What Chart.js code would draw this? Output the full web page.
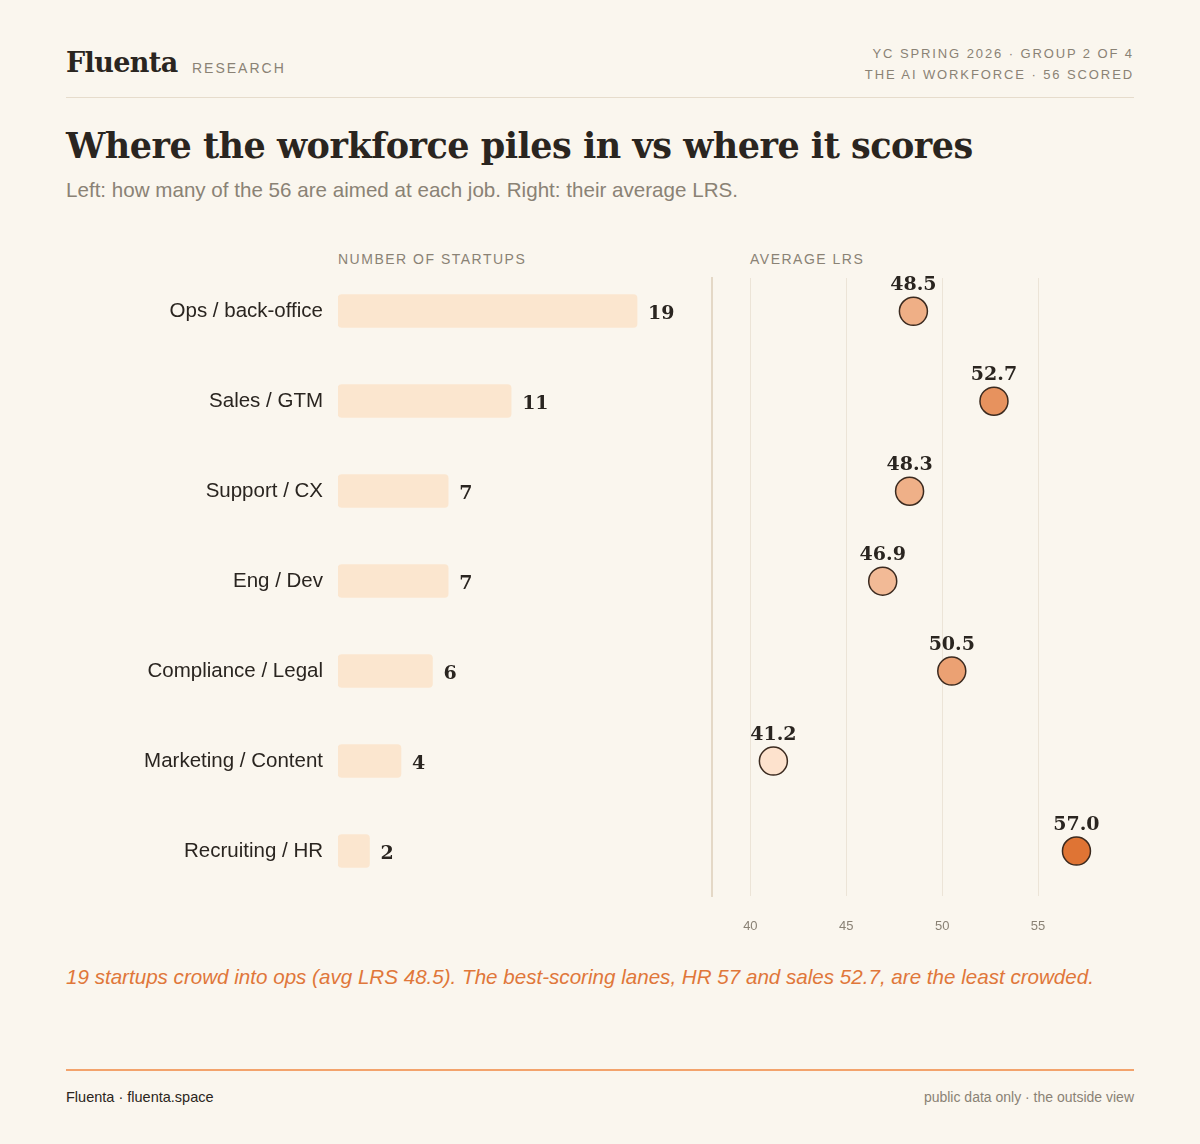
<!DOCTYPE html>
<html lang="en">

<head>
    <meta charset="UTF-8">
    <title>Where the workforce piles in vs where it scores</title>
    <script src="https://cdn.jsdelivr.net/npm/chart.js@4.4.1/dist/chart.umd.min.js"></script>
    <style>
        body {
            margin: 0;
            background: #faf6ee;
            font-family: 'Liberation Sans', Arial, sans-serif;
            color: #2a2520;
        }

        .page {
            position: relative;
            width: 1200px;
            height: 1144px;
        }

        .abs {
            position: absolute;
            white-space: nowrap;
        }

        .brand {
            left: 66px;
            top: 47px;
            font-family: 'DejaVu Serif', Georgia, serif;
            font-weight: bold;
            font-size: 27px;
            letter-spacing: -0.6px;
        }

        .kicker {
            color: #8a8275;
            font-size: 14px;
            letter-spacing: 2px;
        }

        .meta {
            right: 66px;
            text-align: right;
            color: #8a8275;
            font-size: 13px;
            letter-spacing: 1.9px;
            line-height: 21px;
            top: 43px;
        }

        .rule {
            left: 66px;
            width: 1068px;
            height: 1px;
            background: #e6dccc;
        }

        .title {
            left: 66px;
            top: 125px;
            font-family: 'DejaVu Serif', Georgia, serif;
            font-weight: bold;
            font-size: 35px;
            letter-spacing: -0.5px;
        }

        .subtitle {
            left: 66px;
            top: 178px;
            font-size: 20.6px;
            color: #8a8275;
        }

        .takeaway {
            left: 66px;
            top: 965px;
            font-size: 20.6px;
            font-style: italic;
            color: #e0773a;
        }

        .foot {
            top: 1089px;
            font-size: 14.5px;
        }

        canvas {
            position: absolute;
        }
    </style>
</head>

<body>
    <div class="page">
        <div class="abs brand">Fluenta</div>
        <div class="abs kicker" style="left:192px; top:60px;">RESEARCH</div>
        <div class="abs meta">YC SPRING 2026 · GROUP 2 OF 4<br>THE AI WORKFORCE · 56 SCORED</div>
        <div class="abs rule" style="top:97px;"></div>

        <div class="abs title">Where the workforce piles in vs where it scores</div>
        <div class="abs subtitle">Left: how many of the 56 are aimed at each job. Right: their average LRS.</div>

        <div class="abs kicker" style="left:338px; top:251px; letter-spacing:1.5px;">NUMBER OF STARTUPS</div>
        <div class="abs kicker" style="left:750px; top:251px; letter-spacing:1.5px;">AVERAGE LRS</div>

        <canvas id="countChart" width="634" height="630" style="left:66px; top:266px;"></canvas>
        <canvas id="lrsChart" width="450" height="680" style="left:700px; top:266px;"></canvas>

        <div class="abs takeaway">19 startups crowd into ops (avg LRS 48.5). The best-scoring lanes, HR 57 and sales 52.7, are the least crowded.</div>

        <div class="abs rule" style="top:1069px; height:2px; background:#f3a36c;"></div>
        <div class="abs foot" style="left:66px;">Fluenta · fluenta.space</div>
        <div class="abs foot" style="right:66px; color:#8a8275; font-size:14px;">public data only · the outside view</div>
    </div>

    <script>
        // data
        const jobs = ['Ops / back-office', 'Sales / GTM', 'Support / CX', 'Eng / Dev',
            'Compliance / Legal', 'Marketing / Content', 'Recruiting / HR'];
        const startupCounts = [19, 11, 7, 7, 6, 4, 2];
        const avgLrs = [48.5, 52.7, 48.3, 46.9, 50.5, 41.2, 57.0];
        const lrsTicks = [40, 45, 50, 55];

        const ink = '#2a2520';
        const muted = '#8a8275';
        const valueFont = { family: "'DejaVu Serif', Georgia, serif", weight: 'bold', size: 19 };

        // light peach -> burnt orange, by score
        function lrsColor(v) {
            const lo = [253, 227, 207], hi = [223, 116, 52];
            const t = Math.max(0, Math.min(1, (v - 41) / 16));
            const c = lo.map((a, i) => Math.round(a + (hi[i] - a) * t));
            return `rgb(${c[0]},${c[1]},${c[2]})`;
        }

        // stop the scales from eating into the plot area with label padding
        function noScalePadding(scale) {
            scale.paddingTop = 0;
            scale.paddingBottom = 0;
            scale.paddingLeft = 0;
            scale.paddingRight = 0;
        }

        const valueLabels = {
            id: 'valueLabels',
            afterDatasetsDraw(chart, args, opts) {
                const { ctx } = chart;
                const meta = chart.getDatasetMeta(0);
                const values = chart.data.datasets[0].data;
                ctx.save();
                ctx.font = `${valueFont.weight} ${valueFont.size}px ${valueFont.family}`;
                ctx.fillStyle = ink;
                ctx.textBaseline = 'middle';
                meta.data.forEach((el, i) => {
                    const v = opts.pick(values[i]);
                    if (opts.mode === 'bar') {
                        ctx.textAlign = 'left';
                        ctx.fillText(String(v), el.x + 11, el.y + 3);
                    } else {
                        ctx.textAlign = 'center';
                        ctx.fillText(v.toFixed(1), el.x, el.y - 26);
                    }
                });
                ctx.restore();
            }
        };

        new Chart(document.getElementById('countChart'), {
            type: 'bar',
            data: {
                labels: jobs,
                datasets: [{
                    data: startupCounts,
                    backgroundColor: '#fbe6cf',
                    borderRadius: 4,
                    borderSkipped: false,
                    barThickness: 33
                }]
            },
            options: {
                indexAxis: 'y',
                responsive: false,
                maintainAspectRatio: false,
                devicePixelRatio: 1,
                animation: false,
                layout: { padding: 0 },
                plugins: {
                    legend: { display: false },
                    tooltip: { enabled: false },
                    valueLabels: { mode: 'bar', pick: v => v }
                },
                scales: {
                    x: { display: false, min: 0, max: 23 },
                    y: {
                        grid: { display: false, drawTicks: false },
                        border: { display: false },
                        ticks: {
                            color: ink,
                            padding: 15,
                            font: { family: "'Liberation Sans', Arial, sans-serif", size: 20.5 }
                        },
                        afterFit(scale) {
                            scale.width = 272;
                            noScalePadding(scale);
                        }
                    }
                }
            },
            plugins: [valueLabels]
        });

        new Chart(document.getElementById('lrsChart'), {
            type: 'scatter',
            data: {
                datasets: [{
                    data: avgLrs.map((v, i) => ({ x: v, y: i })),
                    pointRadius: 14,
                    pointHoverRadius: 14,
                    pointBackgroundColor: avgLrs.map(lrsColor),
                    pointBorderColor: '#3b2a1f',
                    pointBorderWidth: 1.5,
                    clip: false
                }]
            },
            options: {
                responsive: false,
                maintainAspectRatio: false,
                devicePixelRatio: 1,
                animation: false,
                layout: { autoPadding: false, padding: { left: 12, right: 16, top: 12, bottom: 0 } },
                plugins: {
                    legend: { display: false },
                    tooltip: { enabled: false },
                    valueLabels: { mode: 'dot', pick: p => p.x }
                },
                scales: {
                    x: {
                        min: 38,
                        max: 60,
                        afterBuildTicks(scale) { scale.ticks = lrsTicks.map(v => ({ value: v })); },
                        grid: { color: '#ece4d7', lineWidth: 1, drawTicks: false },
                        border: { display: false },
                        ticks: {
                            color: muted,
                            padding: 23,
                            font: { family: "'Liberation Sans', Arial, sans-serif", size: 13 }
                        },
                        afterFit(scale) {
                            scale.height = 50;
                            noScalePadding(scale);
                        }
                    },
                    y: {
                        reverse: true,
                        min: -0.37,
                        max: 6.5,
                        grid: { display: false, drawTicks: false },
                        border: { display: true, color: '#e4d8c6', width: 2 },
                        ticks: { display: false },
                        afterFit(scale) {
                            scale.width = 0;
                            noScalePadding(scale);
                        }
                    }
                }
            },
            plugins: [valueLabels]
        });
    </script>
</body>

</html>
